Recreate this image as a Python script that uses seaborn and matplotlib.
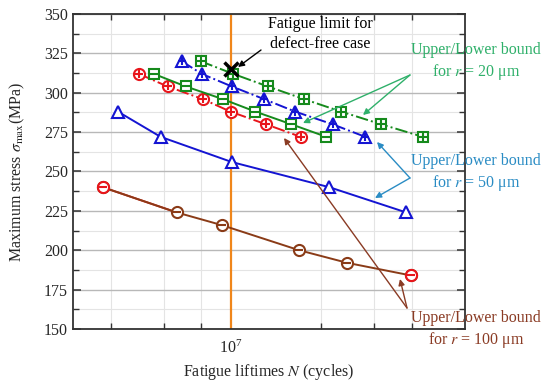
import pandas as pd
import matplotlib
matplotlib.use('Agg')
import matplotlib.pyplot as plt
import seaborn as sns
from matplotlib.ticker import FixedLocator, NullFormatter, MultipleLocator

# Data: stress levels (MPa) and fatigue lives (cycles)
s_r20_upper = [320, 312, 304, 296, 288, 280, 272]
n_r20_upper = [7.96e6, 1.02e7, 1.33e7, 1.75e7, 2.33e7, 3.16e7, 4.35e7]
s_r20_lower = [312, 304, 296, 288, 280, 272]
n_r20_lower = [5.56e6, 7.10e6, 9.41e6, 1.21e7, 1.59e7, 2.08e7]
s_r50_upper = [320, 312, 304, 296, 288, 280, 272]
n_r50_upper = [6.89e6, 8.02e6, 1.01e7, 1.29e7, 1.64e7, 2.18e7, 2.80e7]
s_r50_lower = [288, 272, 256, 240, 224]
n_r50_lower = [4.23e6, 5.86e6, 1.01e7, 2.13e7, 3.83e7]
s_r100_upper = [312, 304, 296, 288, 280, 272]
n_r100_upper = [4.96e6, 6.18e6, 8.08e6, 1.0e7, 1.31e7, 1.71e7]
s_r100_lower = [240, 224, 216, 200, 192, 184]
n_r100_lower = [3.77e6, 6.63e6, 9.34e6, 1.69e7, 2.44e7, 3.97e7]
limit_n = [1e7]
limit_s = [315]

RED = '#e8151b'
GREEN = '#168a1c'
BLUE = '#1414d2'
BROWN = '#8a3b17'

sns.set_style('ticks')
plt.rcParams['font.family'] = ['Liberation Serif', 'DejaVu Serif']
plt.rcParams['mathtext.fontset'] = 'stix'

fig = plt.figure(figsize=(5.5, 3.85), dpi=100)
ax = fig.add_axes([73 / 550, 1 - 329 / 385, 392 / 550, 315 / 385])
ax.set_xscale('log')


def draw(n, s, color, ls, marker, inner=None, ms=8):
    df = pd.DataFrame({'N': n, 'S': s})
    sns.lineplot(data=df, x='N', y='S', ax=ax, color=color, linestyle=ls, lw=1.4,
                 marker=marker, markersize=ms, markerfacecolor='white',
                 markeredgecolor=color, markeredgewidth=1.5, zorder=4)
    if inner:
        ax.plot(n, s, linestyle='none', marker=inner, ms=ms * 0.75, mew=1.5,
                color=color, zorder=5)


draw(n_r100_lower, s_r100_lower, BROWN, '-', 'o', '_')
# red upper part of the r=100 pair (first segment and end points)
ax.plot(n_r100_lower[:2], s_r100_lower[:2], color=RED, lw=1.4, zorder=3)
ax.plot([n_r100_lower[0], n_r100_lower[-1]], [s_r100_lower[0], s_r100_lower[-1]],
        linestyle='none', marker='o', ms=8, mfc='white', mec=RED, mew=1.5, zorder=6)
ax.plot([n_r100_lower[0], n_r100_lower[-1]], [s_r100_lower[0], s_r100_lower[-1]],
        linestyle='none', marker='_', ms=6, mew=1.5, color=RED, zorder=7)

draw(n_r50_lower, s_r50_lower, BLUE, '-', '^')
draw(n_r100_upper, s_r100_upper, RED, '-.', 'o', '+')
draw(n_r20_lower, s_r20_lower, GREEN, '-', 's', '_', ms=7.5)
draw(n_r50_upper, s_r50_upper, BLUE, '-.', '^', '+')
draw(n_r20_upper, s_r20_upper, GREEN, '-.', 's', '+', ms=7.5)

ax.axvline(1e7, color='#f0861a', lw=1.6, zorder=2)
ax.plot(limit_n, limit_s, linestyle='none', marker='x', ms=10, mew=2.5, color='black', zorder=8)

ax.set_xlim(3e6, 6e7)
ax.set_ylim(150, 350)
ax.xaxis.set_major_locator(FixedLocator([1e7]))
ax.xaxis.set_minor_locator(FixedLocator([4e6, 6e6, 8e6, 2e7, 3e7, 4e7]))
ax.xaxis.set_minor_formatter(NullFormatter())
ax.yaxis.set_major_locator(MultipleLocator(25))
ax.yaxis.set_minor_locator(MultipleLocator(12.5))

ax.grid(which='major', axis='y', color='#b8b8b8', lw=1.0, zorder=0)
ax.grid(which='minor', axis='y', color='#e4e4e4', lw=0.8, zorder=0)
ax.grid(which='minor', axis='x', color='#e4e4e4', lw=0.8, zorder=0)
ax.set_axisbelow(True)

ax.tick_params(which='both', direction='in', top=True, right=True, labelsize=11.5,
               color='#333333')
ax.tick_params(which='major', length=6, width=1.1)
ax.tick_params(which='minor', length=4, width=1.0)
ax.tick_params(axis='x', which='major', pad=8)
for sp in ax.spines.values():
    sp.set_color('#333333')
    sp.set_linewidth(1.3)

ax.set_xlabel('Fatigue liftimes $N$ (cycles)', fontsize=11.5)
ax.xaxis.set_label_coords(0.5, -0.105)
ax.set_ylabel(r'Maximum stress $\sigma_{\rm max}$(MPa)', fontsize=11.5, labelpad=12)

H = 385
arrow = dict(arrowstyle='-|>', lw=1.0, mutation_scale=9, shrinkA=0, shrinkB=0)


def note(text, center, color, tail, heads):
    fig.text(center[0] / 550, 1 - center[1] / H, text, color=color, fontsize=11.5,
             ha='center', va='center', linespacing=1.25)
    for hx, hy in heads:
        ax.annotate('', xy=(hx, H - hy), xycoords='figure pixels',
                    xytext=(tail[0], H - tail[1]), textcoords='figure pixels',
                    arrowprops=dict(arrow, color=color), zorder=9)


note('Fatigue limit for\ndefect-free case', (320, 34), 'black', (261, 50), [(238, 67)])
note('Upper/Lower bound\nfor $r$ = 20 μm', (476, 62), '#2fb06a', (410, 75),
     [(303, 123), (363, 115)])
note('Upper/Lower bound\nfor $r$ = 50 μm', (476, 173), '#2a8cc4', (410, 178),
     [(377, 142), (375, 198)])
note('Upper/Lower bound\nfor $r$ = 100 μm', (476, 330), '#8a3b24', (407, 308),
     [(400, 279), (284, 138)])

fig.savefig('out.png', dpi=100)
